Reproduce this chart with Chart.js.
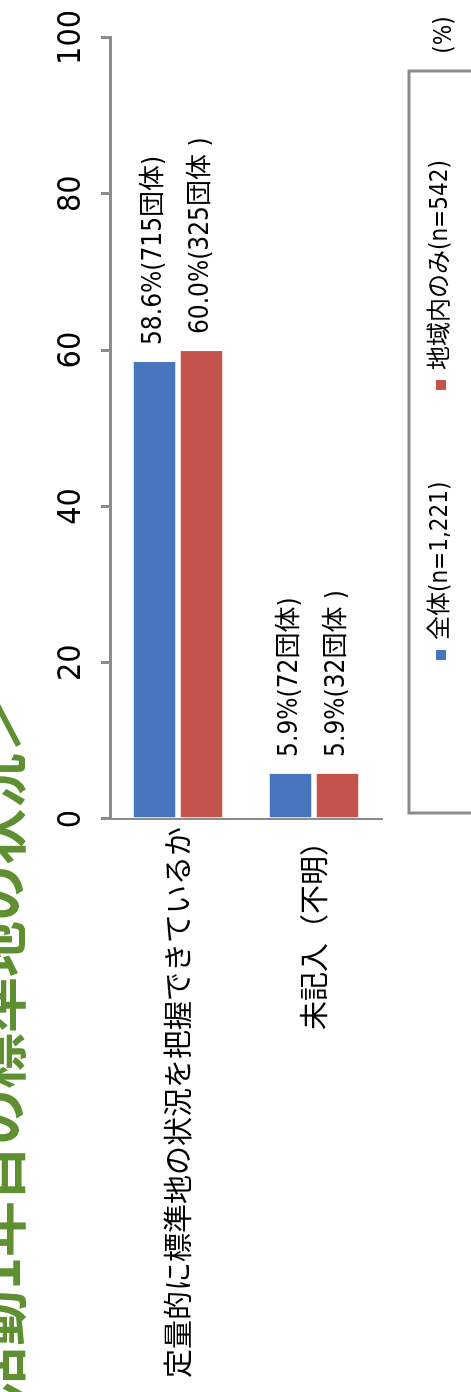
<!DOCTYPE html>
<html lang="ja">
<head>
<meta charset="utf-8">
<script src="https://cdn.jsdelivr.net/npm/chart.js@4.4.1/dist/chart.umd.min.js"></script>
<style>
  html,body{margin:0;padding:0;background:#fff;overflow:hidden;}
  #wrap{position:absolute;left:0;top:0;width:1392px;height:471px;transform-origin:0 0;transform:translate(0,1392px) rotate(-90deg);}
</style>
</head>
<body>
<div id="wrap"><canvas id="c" width="1392" height="471"></canvas></div>
<script>
const titleText='＜活動1年目の標準地の状況＞';
const categories=['定量的に標準地の状況を把握できているか','未記入（不明）'];
const seriesNames=['全体(n=1,221)','地域内のみ(n=542)'];
const allPct=[58.6,5.9];
const allCount=[715,72];
const localPct=[60.0,5.9];
const localCount=[325,32];
const closers=[')',' )'];
const colors=['#4675BE','#C4534C'];
const ticksPct=[0,20,40,60,80,100];

const LATIN="'Liberation Sans Narrow','DejaVu Sans Condensed','Noto Sans CJK JP',sans-serif";
const JP="'Noto Sans CJK JP',sans-serif";

// value labels to the right of each bar
const barLabels={id:'barLabels',afterDatasetsDraw(chart){
  const ctx=chart.ctx, counts=[allCount,localCount];
  ctx.save(); ctx.fillStyle='#000'; ctx.font='26px '+LATIN; ctx.textAlign='left'; ctx.textBaseline='middle';
  chart.data.datasets.forEach((ds,i)=>{
    chart.getDatasetMeta(i).data.forEach((bar,j)=>{
      ctx.fillText(ds.data[j].toFixed(1)+'%('+counts[i][j]+'団体'+closers[i],bar.x+16,bar.y);
    });
  });
  ctx.restore();
}};

// title, unit and boxed legend
const extras={id:'extras',afterDraw(chart){
  const ctx=chart.ctx;
  ctx.save();
  ctx.fillStyle='#5E8F30'; ctx.font='bold 56px '+JP; ctx.textAlign='right'; ctx.textBaseline='middle';
  ctx.fillText(titleText,695,-1);
  ctx.fillStyle='#000'; ctx.font='24px '+LATIN; ctx.textAlign='center';
  ctx.fillText('(%)',1357,445);
  ctx.strokeStyle='#8C8C8C'; ctx.lineWidth=3;
  ctx.strokeRect(579,409,742,90);
  const items=[{u:737},{u:1007}];
  chart.data.datasets.forEach((ds,i)=>{
    ctx.fillStyle=ds.backgroundColor; ctx.fillRect(items[i].u-5,436,10,10);
    ctx.fillStyle='#000'; ctx.font='24px '+LATIN; ctx.textAlign='left'; ctx.textBaseline='middle';
    ctx.fillText(ds.label,items[i].u+15,441);
  });
  ctx.restore();
}};

new Chart(document.getElementById('c'),{
  type:'bar',
  data:{labels:categories,datasets:[
    {label:seriesNames[0],data:allPct,backgroundColor:colors[0],borderColor:'#fff',borderWidth:1,categoryPercentage:0.69,barPercentage:0.93},
    {label:seriesNames[1],data:localPct,backgroundColor:colors[1],borderColor:'#fff',borderWidth:1,categoryPercentage:0.69,barPercentage:0.93}
  ]},
  options:{
    indexAxis:'y',responsive:false,animation:false,
    layout:{padding:{left:0,top:0,right:32,bottom:89}},
    plugins:{legend:{display:false},title:{display:false},tooltip:{enabled:false}},
    scales:{
      x:{position:'top',min:0,max:100,afterFit:s=>{s.height=110;},
        afterBuildTicks:s=>{s.ticks=ticksPct.map(v=>({value:v}));},
        border:{color:'#8C8C8C',width:3},
        grid:{drawOnChartArea:false,tickLength:9,color:'#8C8C8C',lineWidth:3},
        ticks:{color:'#000',font:{family:LATIN,size:32},padding:10,maxRotation:0}},
      y:{afterFit:s=>{s.width=573;},
        border:{color:'#8C8C8C',width:2},
        grid:{display:false,tickLength:0},
        ticks:{color:'#000',font:{family:JP,size:29},padding:8}}
    }
  },
  plugins:[barLabels,extras]
});
</script>
</body>
</html>
